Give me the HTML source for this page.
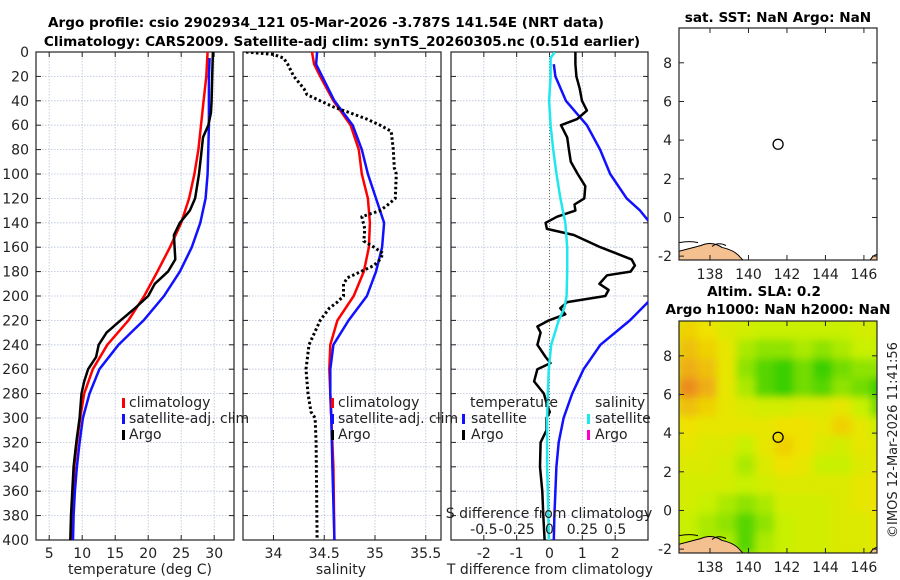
<!DOCTYPE html>
<html><head><meta charset="utf-8"><style>
html,body{margin:0;padding:0;background:#fff;}
svg{display:block;font-family:"DejaVu Sans","Liberation Sans",sans-serif;}
</style></head><body>
<svg id="fig" width="900" height="580" viewBox="0 0 900 580" xmlns="http://www.w3.org/2000/svg">
<defs>
<clipPath id="c1"><rect x="36" y="52" width="198" height="488"/></clipPath>
<clipPath id="c2"><rect x="243" y="52" width="198" height="488"/></clipPath>
<clipPath id="c3"><rect x="451" y="52" width="197" height="488"/></clipPath>
<clipPath id="cm1"><rect x="679" y="28" width="198" height="232"/></clipPath>
<clipPath id="cm2"><rect x="679" y="321" width="198" height="232"/></clipPath>
<filter id="blur"><feGaussianBlur stdDeviation="4"/></filter>
</defs>
<text x="326" y="27" font-size="13.6" font-weight="bold" text-anchor="middle">Argo profile: csio 2902934_121 05-Mar-2026 -3.787S 141.54E (NRT data)</text>
<text x="342" y="46" font-size="13.6" font-weight="bold" text-anchor="middle">Climatology: CARS2009. Satellite-adj clim: synTS_20260305.nc (0.51d earlier)</text>
<text x="778" y="22" font-size="13.6" font-weight="bold" text-anchor="middle">sat. SST: NaN Argo: NaN</text>
<text x="764" y="296" font-size="13.6" font-weight="bold" text-anchor="middle">Altim. SLA: 0.2</text>
<text x="778" y="314" font-size="13.6" font-weight="bold" text-anchor="middle">Argo h1000: NaN h2000: NaN</text>
<text transform="translate(897,440) rotate(-90)" font-size="13" text-anchor="middle" fill="#222">©IMOS 12-Mar-2026 11:41:56</text>
<g id="g"></g>
</svg>
<script>
// ---- data ----
const depthTicks=[0,20,40,60,80,100,120,140,160,180,200,220,240,260,280,300,320,340,360,380,400];
const tempTicks=[5,10,15,20,25,30];
const salTicks=[34,34.5,35,35.5];
const salTickLabels=["34","34.5","35","35.5"];
const dTTicks=[-2,-1,0,1,2];
const dSTicks=[-0.5,-0.25,0,0.25,0.5];
const dSTickLabels=["-0.5","-0.25","0","0.25","0.5"];
const lonTicks=[138,140,142,144,146];
const latTicks=[-2,0,2,4,6,8];

const climDepth=[0,20,40,60,80,100,120,140,160,180,200,220,240,260,280,300,320,340,360,380,400];
const climT=[29.0,28.8,28.4,28.0,27.6,27.0,26.2,25.0,23.3,21.4,19.4,17.0,13.8,11.6,10.3,9.7,9.2,8.8,8.6,8.4,8.3];
const satDepth=[5,20,40,60,80,100,120,140,160,180,200,220,240,260,280,300,320,340,360,380,400];
const satT=[29.3,29.2,29.2,29.2,29.1,29.0,28.7,27.9,26.6,24.8,22.4,19.3,15.5,12.6,11.1,10.1,9.6,9.2,8.9,8.7,8.6];
const argoTDepth=[0,20,40,50,60,70,80,100,120,130,140,150,160,170,180,190,200,210,220,230,240,250,260,270,280,300,320,340,360,380,400];
const argoT=[29.8,29.7,29.6,29.5,29.1,28.3,28.1,27.7,27.1,26.3,24.8,23.9,24.0,24.1,23.0,21.0,20.0,18.0,15.8,13.7,12.5,12.1,10.9,10.3,9.9,9.6,9.1,8.7,8.5,8.3,8.2];

const climSDepth=[0,10,20,40,60,80,100,120,140,160,180,200,220,240,260,280,300,340,400];
const climS=[34.38,34.40,34.46,34.59,34.76,34.84,34.87,34.93,34.95,34.94,34.89,34.79,34.63,34.56,34.55,34.56,34.57,34.59,34.60];
const satSDepth=[0,10,20,40,60,80,100,120,140,160,180,200,220,240,260,280,300,340,400];
const satS=[34.43,34.42,34.48,34.60,34.78,34.87,34.93,35.01,35.09,35.07,35.01,34.92,34.74,34.59,34.56,34.56,34.57,34.58,34.60];
const argoSDepth=[0,2,5,10,20,30,35,40,45,50,55,60,65,80,95,100,120,125,130,135,145,155,160,165,170,175,180,185,190,200,205,210,220,240,260,280,295,300,320,400];
const argoS=[33.73,34.0,34.1,34.14,34.2,34.30,34.33,34.46,34.59,34.76,34.92,35.05,35.16,35.18,35.19,35.21,35.20,35.13,35.05,34.87,34.90,34.89,34.99,35.08,35.05,34.99,34.86,34.73,34.69,34.69,34.63,34.55,34.46,34.35,34.32,34.34,34.37,34.41,34.42,34.43];

const dTsatDepth=[10,20,40,60,80,100,120,130,138,150,170,190,205,220,240,260,280,300,320,340,360,380,400];
const dTsat=[0.13,0.18,0.5,1.14,1.54,1.85,2.35,2.76,3.0,3.4,3.8,3.5,3.0,2.45,1.55,1.04,0.69,0.43,0.28,0.21,0.18,0.15,0.13];
const dTargoDepth=[0,10,20,30,40,48,55,60,70,80,90,100,110,120,125,130,135,140,145,150,160,170,175,180,183,190,195,200,205,210,215,220,225,230,240,250,255,260,270,280,290,295,300,310,320,340,360,380,400];
const dTargo=[0.79,0.79,0.82,0.92,0.99,1.14,0.84,0.35,0.54,0.59,0.65,0.86,1.09,1.06,0.76,0.79,0.23,-0.12,-0.08,0.74,1.55,2.5,2.6,2.47,1.75,1.52,1.8,1.7,0.54,0.33,0.48,-0.02,-0.37,-0.27,-0.37,-0.12,0.03,-0.37,-0.47,-0.17,-0.07,0.01,-0.09,-0.09,-0.27,-0.29,-0.22,-0.19,-0.15];
const dSsatDepth=[0,5,20,40,60,80,100,120,140,160,180,200,210,220,240,260,280,300,340,360,400];
const dSsat=[0.04,0.008,0.008,-0.003,0.008,0.028,0.053,0.083,0.12,0.135,0.135,0.13,0.113,0.07,0.013,-0.005,-0.013,-0.018,-0.018,-0.013,-0.005];

const slaLons=[136.9,137.9,138.9,139.9,140.9,141.9,142.9,143.9,144.9,145.9,146.9];
const slaLats=[9.3,8.3,7.3,6.3,5.3,4.3,3.3,2.3,1.3,0.3,-0.7,-1.7];
const slaRow0=[1.1,1.0,0.8,0.7,0.6,0.6,0.6,0.6,0.6,0.7,0.7];
const slaRow1=[1.2,1.1,0.9,0.5,0.4,0.4,0.5,0.4,0.5,0.6,0.6];
const slaRow2=[1.3,1.2,0.9,0.4,0.2,0.1,0.3,0.1,0.3,0.4,0.4];
const slaRow3=[1.5,1.3,0.9,0.5,0.2,0.1,0.3,0.2,0.4,0.3,0.1];
const slaRow4=[1.2,1.1,0.9,0.8,0.7,0.7,0.8,0.8,0.9,0.6,0.3];
const slaRow5=[1.0,0.9,0.9,0.9,0.9,1.0,1.0,0.9,1.1,0.9,0.6];
const slaRow6=[0.9,0.8,0.8,0.6,0.9,1.1,1.0,0.8,0.7,0.9,0.8];
const slaRow7=[0.8,0.8,0.7,0.5,0.8,1.0,0.9,0.6,0.6,0.8,0.9];
const slaRow8=[0.7,0.7,0.7,0.6,0.7,0.8,0.8,0.8,0.8,0.9,1.0];
const slaRow9=[0.7,0.6,0.5,0.4,0.5,0.7,0.7,0.7,0.8,0.9,1.0];
const slaRow10=[0.6,0.5,0.4,0.2,0.4,0.6,0.7,0.7,0.8,0.8,0.9];
const slaRow11=[0.6,0.5,0.5,0.2,0.5,0.6,0.7,0.7,0.8,0.8,0.9];
const slaGrid=[slaRow0,slaRow1,slaRow2,slaRow3,slaRow4,slaRow5,slaRow6,slaRow7,slaRow8,slaRow9,slaRow10,slaRow11];
const argoLon=[141.54];
const argoLat=[3.787];

// ---- helpers ----
const NS="http://www.w3.org/2000/svg";
const G=document.getElementById('g');
const FS=14;
function mk(tag,attrs,parent){const e=document.createElementNS(NS,tag);for(const k in attrs)e.setAttribute(k,attrs[k]);(parent||G).appendChild(e);return e;}
const Y0=52,Y1=540;
const yD=d=>Y0+(d/400)*(Y1-Y0);
function lin(d0,d1,r0,r1){return v=>r0+(v-d0)/(d1-d0)*(r1-r0);}
const xT=lin(3,33,36,234), xS=lin(33.7,35.65,243,441), xDT=lin(-3,3,451,648), xDS=v=>xDT(v*4);
const lonX=lin(136.39,146.68,679,877);
const latY1=lin(9.8,-2.2,28,260), latY2=lin(9.8,-2.2,321,553);

function panel(x0,x1,xticks,xs,labels,name){
  const gr=mk('g',{});
  
  
  for(const d of depthTicks){const l=mk('line',{x1:x0,x2:x1,y1:yD(d),y2:yD(d),stroke:'#b8c0dc','stroke-width':0.8,'stroke-dasharray':'1.5,1.5'},gr);
    
    
    mk('line',{x1:x0,x2:x0+5,y1:yD(d),y2:yD(d),stroke:'#222'},gr);mk('line',{x1:x1-5,x2:x1,y1:yD(d),y2:yD(d),stroke:'#222'},gr);}
  xticks.forEach((t,i)=>{const x=xs(t);
    const l=mk('line',{x1:x,x2:x,y1:Y0,y2:Y1,stroke:'#b8c0dc','stroke-width':0.8,'stroke-dasharray':'1.5,1.5'},gr);
    
    
    mk('line',{x1:x,x2:x,y1:Y0,y2:Y0+5,stroke:'#222'},gr);mk('line',{x1:x,x2:x,y1:Y1-5,y2:Y1,stroke:'#222'},gr);
    const tx=mk('text',{x:x,y:558,'font-size':FS,'text-anchor':'middle',fill:'#222'},gr);tx.textContent=labels?labels[i]:String(t);
    
    
  });
  const r=mk('rect',{x:x0,y:Y0,width:x1-x0,height:Y1-Y0,fill:'none',stroke:'#222','stroke-width':1.2},gr);
  
  
  return gr;
}
function line(xs,ys,fx,fy,attrs,clip,name){
  const pts=xs.map((v,i)=>fx(v).toFixed(1)+','+fy(ys[i]).toFixed(1)).join(' ');
  const p=mk('polyline',Object.assign({points:pts,fill:'none','stroke-linejoin':'round','clip-path':'url(#'+clip+')'},attrs));
  
  
}
function txt(x,y,s,name,opts){const t=mk('text',Object.assign({x:x,y:y,'font-size':FS,fill:'#222'},opts||{}));t.textContent=s;
  
  return t;}
function legBar(x,y,c,name){const r=mk('rect',{x:x,y:y-10,width:3,height:10,fill:c});
  
  }

for(const d of depthTicks){txt(29,yD(d)+5,String(d),'y-tick-label',{'text-anchor':'end'});}

// panel 1 temperature
panel(36,234,tempTicks,xT,null,'temperature-panel');
line(climT,climDepth,xT,yD,{stroke:'#f00','stroke-width':2.5},'c1','temp-climatology-line');
line(satT,satDepth,xT,yD,{stroke:'#11f','stroke-width':2.5},'c1','temp-satellite-line');
line(argoT,argoTDepth,xT,yD,{stroke:'#000','stroke-width':2.5},'c1','temp-argo-line');
txt(140,574,'temperature (deg C)','temperature-axis-title',{'text-anchor':'middle'});
legBar(122,408,'#f00','legend-climatology-marker');txt(129,407,'climatology','legend-climatology');
legBar(122,424,'#11f','legend-satellite-marker');txt(129,423,'satellite-adj. clim','legend-satellite');
legBar(122,440,'#000','legend-argo-marker');txt(129,439,'Argo','legend-argo');

// panel 2 salinity
panel(243,441,salTicks,xS,salTickLabels,'salinity-panel');
line(climS,climSDepth,xS,yD,{stroke:'#f00','stroke-width':2.5},'c2','sal-climatology-line');
line(satS,satSDepth,xS,yD,{stroke:'#11f','stroke-width':2.5},'c2','sal-satellite-line');
line(argoS,argoSDepth,xS,yD,{stroke:'#000','stroke-width':3,'stroke-dasharray':'2.5,2.5'},'c2','sal-argo-line');
txt(341,574,'salinity','salinity-axis-title',{'text-anchor':'middle'});
legBar(331,408,'#f00','legend2-climatology-marker');txt(338,407,'climatology','legend2-climatology');
legBar(331,424,'#11f','legend2-satellite-marker');txt(338,423,'satellite-adj. clim','legend2-satellite');
legBar(331,440,'#000','legend2-argo-marker');txt(338,439,'Argo','legend2-argo');

// panel 3 differences
panel(451,648,dTTicks,xDT,null,'difference-panel');
const zl=mk('line',{x1:xDT(0),x2:xDT(0),y1:Y0,y2:Y1,stroke:'#665','stroke-width':1,'stroke-dasharray':'1,2'});


line(dTsat,dTsatDepth,xDT,yD,{stroke:'#11f','stroke-width':2.5},'c3','dT-satellite-line');
line(dTargo,dTargoDepth,xDT,yD,{stroke:'#000','stroke-width':2.5},'c3','dT-argo-line');
line(dSsat,dSsatDepth,xDS,yD,{stroke:'#1ee8ee','stroke-width':2.5},'c3','dS-satellite-line');
txt(550,574,'T difference from climatology','dT-axis-title',{'text-anchor':'middle'});
txt(549,518,'S difference from climatology','dS-axis-title',{'text-anchor':'middle'});
dSTicks.forEach((v,i)=>{txt(xDS(v),534,dSTickLabels[i],'dS-tick-label',{'text-anchor':'middle'});});
txt(470,407,'temperature','legend3-temperature-header');
legBar(462,424,'#11f','legend3-t-satellite-marker');txt(471,423,'satellite','legend3-t-satellite');
legBar(462,440,'#000','legend3-t-argo-marker');txt(471,439,'Argo','legend3-t-argo');
txt(595,407,'salinity','legend3-salinity-header');
legBar(587,424,'#1ee8ee','legend3-s-satellite-marker');txt(595,423,'satellite','legend3-s-satellite');
legBar(587,440,'#f0c','legend3-s-argo-marker');txt(595,439,'Argo','legend3-s-argo');

// maps
function slaColor(v){
  const stops=[[0,[30,200,0]],[0.6,[200,240,0]],[1.0,[240,226,0]],[1.5,[236,140,30]]];
  for(let i=0;i<stops.length-1;i++){const [a,ca]=stops[i],[b,cb]=stops[i+1];
    if(v<=b||i==stops.length-2){const t=Math.max(0,Math.min(1,(v-a)/(b-a)));return 'rgb('+ca.map((c,j)=>Math.round(c+(cb[j]-c)*t)).join(',')+')';}}
}
function coast(gr,latY){
  const p=mk('path',{d:'M679,'+latY(-2.2)+' L679,'+latY(-1.75)+' Q690,'+latY(-1.6)+' 701,'+latY(-1.45)+' Q712,'+latY(-1.2)+' 722,'+latY(-1.55)+' Q735,'+latY(-1.7)+' 740,'+latY(-2.05)+' L743,'+latY(-2.2)+' Z',fill:'#f5c08f',stroke:'#000','stroke-width':1},gr);
  
  
  mk('path',{d:'M679,'+latY(-1.3)+' Q690,'+latY(-1.2)+' 698,'+latY(-1.3)+' M712,'+latY(-1.5)+' Q718,'+latY(-1.25)+' 726,'+latY(-1.45),fill:'none',stroke:'#000','stroke-width':1},gr);
  mk('path',{d:'M870,'+latY(-2.2)+' L873,'+latY(-2.0)+' L877,'+latY(-1.9)+' L877,'+latY(-2.2)+' Z',fill:'#f5c08f',stroke:'#000','stroke-width':1},gr);
}
function mapGroup(name){
  const gr=mk('g',{});
  
  
  return gr;
}
function mapAxes(gr,y0,y1,latY){
  mk('rect',{x:679,y:y0,width:198,height:y1-y0,fill:'none',stroke:'#222','stroke-width':1.2},gr);
  for(const l of latTicks){const y=latY(l);mk('line',{x1:679,x2:684,y1:y,y2:y,stroke:'#222'},gr);mk('line',{x1:872,x2:877,y1:y,y2:y,stroke:'#222'},gr);
    const t=mk('text',{x:672,y:y+5,'font-size':FS,'text-anchor':'end',fill:'#222'},gr);t.textContent=String(l);
    
    }
  for(const l of lonTicks){const x=lonX(l);mk('line',{x1:x,x2:x,y1:y1-5,y2:y1,stroke:'#222'},gr);mk('line',{x1:x,x2:x,y1:y0,y2:y0+5,stroke:'#222'},gr);
    const t=mk('text',{x:x,y:y1+19,'font-size':FS,'text-anchor':'middle',fill:'#222'},gr);t.textContent=String(l);
    
    }
  argoLon.forEach((lo,i)=>{const c=mk('circle',{cx:lonX(lo),cy:latY(argoLat[i]),r:5,fill:'none',stroke:'#000','stroke-width':1.3},gr);
    
    });
}
const m1=mapGroup('sst-map');
coast(mk('g',{'clip-path':'url(#cm1)'},m1),latY1);
mapAxes(m1,28,260,latY1);
const m2=mapGroup('sla-map');
const hm=mk('g',{'clip-path':'url(#cm2)'},m2);
mk('rect',{x:679,y:321,width:198,height:232,fill:slaColor(0.7)},hm);
const hb=mk('g',{filter:'url(#blur)'},hm);
slaGrid.forEach((row,r)=>row.forEach((v,c)=>{
  const x=lonX(slaLons[c]-0.5),y=latY2(slaLats[r]+0.5);
  const cell=mk('rect',{x:x-1,y:y-1,width:lonX(slaLons[c]+0.5)-x+2,height:latY2(slaLats[r]-0.5)-y+2,fill:slaColor(v)},hb);
  
  
}));
coast(hm,latY2);
mapAxes(m2,321,553,latY2);
</script>
</body></html>
